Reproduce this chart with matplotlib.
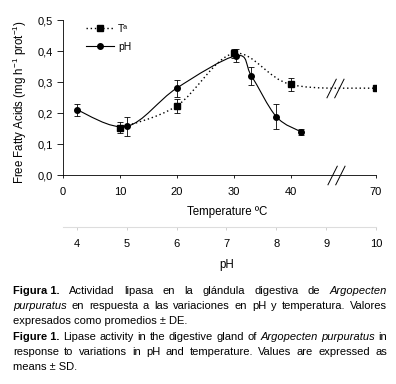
import numpy as np
import matplotlib
matplotlib.use('Agg')
import matplotlib.pyplot as plt
from matplotlib.path import Path
from matplotlib.patches import PathPatch
from matplotlib import font_manager

# data
temp = [10, 20, 30, 40, 70]
temp_ffa = [0.152, 0.223, 0.392, 0.292, 0.280]
temp_err = [0.018, 0.022, 0.015, 0.020, 0.0]

ph = [4, 5, 6, 7.2, 7.5, 8, 8.5]
ph_ffa = [0.210, 0.157, 0.280, 0.385, 0.320, 0.188, 0.139]
ph_err = [0.020, 0.030, 0.027, 0.022, 0.030, 0.040, 0.010]

t_ticks = [0, 10, 20, 30, 40, 70]
ph_ticks = [4, 5, 6, 7, 8, 9, 10]
y_ticks = [0.0, 0.1, 0.2, 0.3, 0.4, 0.5]
y_labels = ['0,0', '0,1', '0,2', '0,3', '0,4', '0,5']

caption = [
    [('Figura 1.', 'b'), ('Actividad', 'r'), ('lipasa', 'r'), ('en', 'r'), ('la', 'r'),
     ('glándula', 'r'), ('digestiva', 'r'), ('de', 'r'), ('Argopecten', 'i')],
    [('purpuratus', 'i'), ('en', 'r'), ('respuesta', 'r'), ('a', 'r'), ('las', 'r'),
     ('variaciones', 'r'), ('en', 'r'), ('pH', 'r'), ('y', 'r'), ('temperatura.', 'r'),
     ('Valores', 'r')],
    [('expresados como promedios ± DE.', 'r')],
    [('Figure 1.', 'b'), ('Lipase', 'r'), ('activity', 'r'), ('in', 'r'), ('the', 'r'),
     ('digestive', 'r'), ('gland', 'r'), ('of', 'r'), ('Argopecten', 'i'),
     ('purpuratus', 'i'), ('in', 'r')],
    [('response', 'r'), ('to', 'r'), ('variations', 'r'), ('in', 'r'), ('pH', 'r'),
     ('and', 'r'), ('temperature.', 'r'), ('Values', 'r'), ('are', 'r'),
     ('expressed', 'r'), ('as', 'r')],
    [('means ± SD.', 'r')],
]
justify = [True, True, False, True, True, False]

plt.rcParams['font.family'] = ['Liberation Sans', 'DejaVu Sans']
plt.rcParams['mathtext.fontset'] = 'custom'
plt.rcParams['mathtext.rm'] = 'Liberation Sans'
plt.rcParams['mathtext.it'] = 'Liberation Sans:italic'

W, H = 396, 384
fig = plt.figure(figsize=(W / 100, H / 100), dpi=100)


def px(x0, y0, x1, y1):
    return [x0 / W, 1 - y1 / H, (x1 - x0) / W, (y1 - y0) / H]


# broken temperature axis: everything above 40 is squeezed by half
def fwd(t):
    t = np.asarray(t, float)
    return np.where(t <= 40, t, 40 + (t - 40) / 2)


def inv(p):
    p = np.asarray(p, float)
    return np.where(p <= 40, p, 40 + (p - 40) * 2)


def smooth(x, y):
    pts = np.column_stack([x, y]).astype(float)
    n = len(pts)
    verts = [pts[0]]
    codes = [Path.MOVETO]
    for i in range(n - 1):
        p0 = pts[max(i - 1, 0)]
        p1 = pts[i]
        p2 = pts[i + 1]
        p3 = pts[min(i + 2, n - 1)]
        verts += [p1 + (p2 - p0) / 6, p2 - (p3 - p1) / 6, p2]
        codes += [Path.CURVE4] * 3
    return np.array(verts), codes


ax = fig.add_axes(px(63, 20, 376, 175))
ax.set_xscale('function', functions=(fwd, inv))
ax.set_xlim(0, 70)
ax.set_ylim(0, 0.5)

# temperature series (dotted, squares)
v, c = smooth(fwd(temp), temp_ffa)
v[:, 0] = inv(v[:, 0])
ax.add_patch(PathPatch(Path(v, c), fill=False, ls=(0, (1, 2)), lw=1.0, ec='k'))
ax.errorbar(temp, temp_ffa, yerr=temp_err, fmt='s', ms=4, color='k',
            ecolor='k', elinewidth=0.6, capsize=2.2, capthick=0.6)

# pH series (solid, circles) on its own x scale
ax2 = ax.twiny()
ax2.set_xlim(3.72, 10)
v, c = smooth(ph, ph_ffa)
ax2.add_patch(PathPatch(Path(v, c), fill=False, ls='-', lw=0.8, ec='k'))
ax2.errorbar(ph, ph_ffa, yerr=ph_err, fmt='o', ms=4, color='k',
             ecolor='k', elinewidth=0.6, capsize=2.2, capthick=0.6)

# legend
ax.plot([], [], ls=(0, (1, 2)), marker='s', ms=4, color='k', lw=1.0, label='Tª')
ax.plot([], [], ls='-', marker='o', ms=4, color='k', lw=0.8, label='pH')
ax.legend(loc='upper left', bbox_to_anchor=(86 / W, 1 - 24 / H),
          bbox_transform=fig.transFigure, frameon=False, fontsize=7.5,
          handlelength=2.7, handletextpad=0.4, labelspacing=0.75, borderpad=0,
          borderaxespad=0)

# axes styling
for s in ['top', 'right']:
    ax.spines[s].set_visible(False)
ax.spines['left'].set_linewidth(0.6)
ax.spines['bottom'].set_linewidth(0.6)
ax.set_yticks(y_ticks)
ax.set_yticklabels(y_labels)
ax.set_xticks(t_ticks)
ax.set_xticklabels([str(t) for t in t_ticks])
ax.tick_params(axis='y', direction='out', length=4, width=0.6, pad=3.5, labelsize=8)
ax.tick_params(axis='x', direction='out', length=2.5, width=0.6, pad=6, labelsize=8)
ax.set_ylabel('Free Fatty Acids (mg h$^{-1}$ prot$^{-1}$)', fontsize=8.3)
ax.yaxis.set_label_coords(-0.108, 0.47)

for s in ['top', 'left', 'right']:
    ax2.spines[s].set_visible(False)
ax2.spines['bottom'].set_visible(True)
ax2.spines['bottom'].set_position(('outward', 37.4))
ax2.spines['bottom'].set_bounds(3.72, 10)
ax2.spines['bottom'].set_color('#dddddd')
ax2.spines['bottom'].set_linewidth(0.8)
ax2.xaxis.set_ticks_position('bottom')
ax2.xaxis.set_label_position('bottom')
ax2.set_xticks(ph_ticks)
ax2.set_xticklabels([str(p) for p in ph_ticks])
ax2.tick_params(axis='x', direction='out', length=2, width=0.6, color='#c8c8c8',
                pad=7, labelsize=8)

# break marks
brk = Path([(-0.9, -1), (0.1, 1), (-0.1, -1), (0.9, 1)],
           [Path.MOVETO, Path.LINETO, Path.MOVETO, Path.LINETO])
ax.plot([56], [0], ls='none', marker=brk, ms=14, mec='k', mfc='none', mew=0.7,
        clip_on=False)
ax.plot([55.5], [0.28], ls='none', marker=brk, ms=14, mec='k', mfc='none', mew=0.7,
        clip_on=False)

fig.text(227 / W, 1 - 212 / H, 'Temperature ºC', ha='center', va='center', fontsize=8.3)
fig.text(227 / W, 1 - 265 / H, 'pH', ha='center', va='center', fontsize=8.3)

# caption, justified word by word
names = {f.name for f in font_manager.fontManager.ttflist}
cap_font = 'Liberation Sans Narrow' if 'Liberation Sans Narrow' in names else 'Liberation Sans'
cap_size = 9.2 if cap_font == 'Liberation Sans Narrow' else 8.0
cap_left, cap_right = 13, 387
line_y = [291, 306, 321, 337, 352, 367]
renderer = fig.canvas.get_renderer()
for words, yy, just in zip(caption, line_y, justify):
    texts = []
    for word, st in words:
        t = fig.text(0, 1 - yy / H, word, fontsize=cap_size, family=cap_font,
                     weight='bold' if st == 'b' else 'normal',
                     style='italic' if st == 'i' else 'normal', va='center', ha='left')
        texts.append(t)
    widths = [t.get_window_extent(renderer).width for t in texts]
    if just and len(texts) > 1:
        gap = (cap_right - cap_left - sum(widths)) / (len(texts) - 1)
    else:
        gap = 3
    x = cap_left
    for t, w in zip(texts, widths):
        t.set_x(x / W)
        x += w + gap

fig.savefig('out.png', dpi=100)
